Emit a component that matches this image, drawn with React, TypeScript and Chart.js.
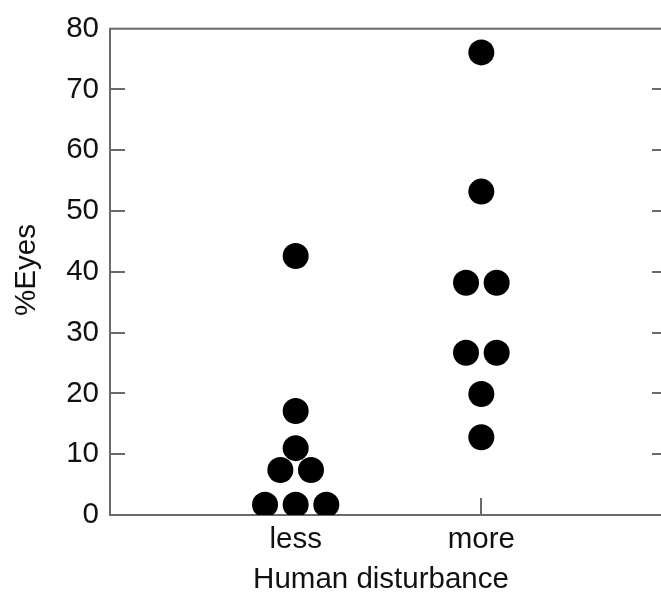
import { useEffect, useRef } from "react";
import { Chart, registerables } from "chart.js";

Chart.register(...registerables);

const categories = ["less", "more"];
const yTickValues = [0, 10, 20, 30, 40, 50, 60, 70, 80];
const xTitle = "Human disturbance";
const yTitle = "%Eyes";

// "less" group: values (%Eyes) and swarm slot (horizontal offset index)
const lessValues = [42.6, 17.1, 11.0, 7.4, 7.4, 1.7, 1.7, 1.7];
const lessSlots = [0, 0, 0, -0.5, 0.5, -1, 0, 1];
// "more" group
const moreValues = [76.1, 53.2, 38.2, 38.2, 26.7, 26.7, 19.9, 12.8];
const moreSlots = [0, 0, -0.5, 0.5, -0.5, 0.5, 0, 0];

const SLOT_WIDTH = 0.165;
const FONT = '"Liberation Sans", Arial, sans-serif';
const FONT_SIZE = 29.5;

function toPoints(catIndex: number, values: number[], slots: number[]) {
  return values.map((v, i) => ({ x: catIndex + 1 + slots[i] * SLOT_WIDTH, y: v }));
}

const framePlugin = {
  id: "frame",
  beforeDatasetsDraw(chart: any) {
    const { ctx, chartArea } = chart;
    const { left, right, top, bottom } = chartArea;
    const xs = chart.scales.x;
    const ys = chart.scales.y;
    ctx.save();
    ctx.strokeStyle = "#6a6a6a";
    ctx.lineWidth = 2;
    ctx.strokeRect(left, top, right - left, bottom - top);
    ctx.beginPath();
    yTickValues.forEach((v) => {
      if (v === 0 || v === 80) return;
      const py = Math.round(ys.getPixelForValue(v));
      ctx.moveTo(left, py);
      ctx.lineTo(left + 15, py);
      ctx.moveTo(right, py);
      ctx.lineTo(right - 15, py);
    });
    categories.forEach((_, i) => {
      const px = Math.round(xs.getPixelForValue(i + 1));
      ctx.moveTo(px, bottom);
      ctx.lineTo(px, bottom - 17);
    });
    ctx.stroke();
    ctx.restore();
  },
  afterDraw(chart: any) {
    const { ctx } = chart;
    ctx.save();
    ctx.fillStyle = "#111";
    ctx.font = `${FONT_SIZE}px ${FONT}`;
    ctx.textAlign = "center";
    ctx.textBaseline = "alphabetic";
    ctx.fillText(xTitle, 381, 588);
    ctx.translate(27, 270);
    ctx.rotate(-Math.PI / 2);
    ctx.textBaseline = "middle";
    ctx.fillText(yTitle, 0, 0);
    ctx.restore();
  },
};

export default function App() {
  const ref = useRef<HTMLCanvasElement | null>(null);

  useEffect(() => {
    if (!ref.current) return;
    const chart = new Chart(ref.current, {
      type: "scatter",
      data: {
        datasets: [
          { label: categories[0], data: toPoints(0, lessValues, lessSlots) },
          { label: categories[1], data: toPoints(1, moreValues, moreSlots) },
        ],
      },
      options: {
        responsive: false,
        animation: false,
        devicePixelRatio: 1,
        layout: { padding: { left: 0, top: 23, right: 9, bottom: 0 } },
        plugins: { legend: { display: false }, tooltip: { enabled: false } },
        elements: {
          point: { radius: 13, backgroundColor: "#000", borderWidth: 0, hoverRadius: 13 },
        },
        scales: {
          x: {
            type: "linear",
            min: 0,
            max: 3,
            afterBuildTicks: (s: any) => {
              s.ticks = categories.map((_, i) => ({ value: i + 1 }));
            },
            afterFit: (s: any) => {
              s.height = 78;
            },
            ticks: {
              callback: (v: any) => categories[Number(v) - 1] ?? "",
              font: { family: FONT, size: FONT_SIZE },
              color: "#111",
              padding: 7,
              maxRotation: 0,
              autoSkip: false,
            },
            grid: { display: false, drawTicks: false },
            border: { display: false },
          },
          y: {
            type: "linear",
            min: 0,
            max: 80,
            afterBuildTicks: (s: any) => {
              s.ticks = yTickValues.map((v) => ({ value: v }));
            },
            afterFit: (s: any) => {
              s.width = 110;
            },
            ticks: {
              font: { family: FONT, size: FONT_SIZE },
              color: "#111",
              padding: 11,
            },
            grid: { display: false, drawTicks: false },
            border: { display: false },
          },
        },
      },
      plugins: [framePlugin],
    });
    return () => chart.destroy();
  }, []);

  return (
    <div
      style={{
        position: "absolute",
        left: 0,
        top: 0,
        width: 661,
        height: 593,
        overflow: "hidden",
        background: "#fff",
      }}
    >
      <canvas ref={ref} width={680} height={593} style={{ display: "block" }} />
    </div>
  );
}
